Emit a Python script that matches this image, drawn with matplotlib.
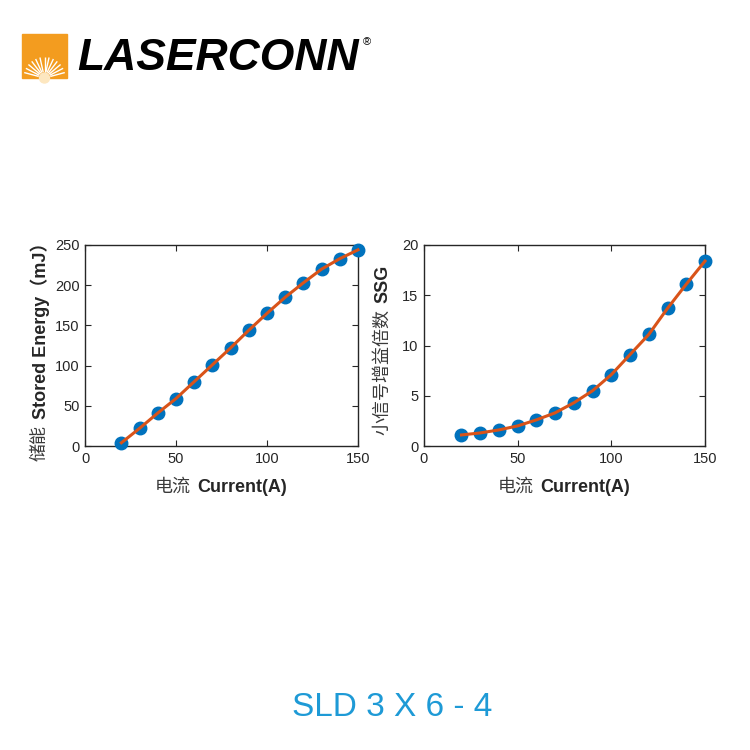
import numpy as np
import matplotlib
matplotlib.use("Agg")
import matplotlib.pyplot as plt
from matplotlib.patches import Rectangle, Circle

plt.rcParams['font.family'] = ['Liberation Sans', 'Noto Sans CJK SC', 'DejaVu Sans']

# data
current = [20, 30, 40, 50, 60, 70, 80, 90, 100, 110, 120, 130, 140, 150]
energy = [4, 22, 41, 59, 80, 101, 122, 144, 165, 185, 203, 220, 233, 244]
ssg = [1.1, 1.3, 1.6, 2.0, 2.6, 3.3, 4.3, 5.5, 7.1, 9.1, 11.1, 13.7, 16.1, 18.4]

x_ticks = [0, 50, 100, 150]
energy_ticks = [0, 50, 100, 150, 200, 250]
ssg_ticks = [0, 5, 10, 15, 20]

W = H = 750
fig = plt.figure(figsize=(7.5, 7.5), dpi=100)
fig.patch.set_facecolor('white')

def px_axes(x0, y0, x1, y1):
    # pixel box (top-left origin) -> figure fraction
    return fig.add_axes([x0 / W, 1 - y1 / H, (x1 - x0) / W, (y1 - y0) / H])

dark = '#262626'
blue = '#0072BD'
orange = '#D95319'

ax1 = px_axes(85, 245, 358, 446)
ax2 = px_axes(424, 245, 705, 446)

for ax, y, yt, ylim in [(ax1, energy, energy_ticks, (0, 250)), (ax2, ssg, ssg_ticks, (0, 20))]:
    ax.plot(current, y, 'o', color=blue, ms=9, zorder=2, clip_on=False)
    ax.plot(current, y, '-', color=orange, lw=2.2, zorder=3, clip_on=False)
    ax.set_xlim(0, 150)
    ax.set_ylim(*ylim)
    ax.set_xticks(x_ticks)
    ax.set_yticks(yt)
    ax.tick_params(direction='in', top=True, right=True, length=4, width=0.8,
                   labelsize=10.5, colors=dark, pad=4)
    for s in ax.spines.values():
        s.set_color(dark)
        s.set_linewidth(1.0)
        s.set_zorder(1)

fig.canvas.draw()
renderer = fig.canvas.get_renderer()

def two_part(x, y, cn, en, rotation, size=13):
    # chinese part in regular weight, english part in bold, centered at (x, y) px
    t1 = fig.text(0, 0, cn, fontsize=size, color='#3a3a3a', rotation=rotation,
                  ha='left', va='bottom')
    t2 = fig.text(0, 0, en, fontsize=size, color=dark, rotation=rotation,
                  fontweight='bold', ha='left', va='bottom')
    b1 = t1.get_window_extent(renderer)
    b2 = t2.get_window_extent(renderer)
    gap = 6
    if rotation == 0:
        total = b1.width + gap + b2.width
        left = x - total / 2
        t1.set_position((left / W, 1 - y / H))
        t2.set_position(((left + b1.width + gap) / W, 1 - y / H))
        t1.set_va('center'); t2.set_va('center')
    else:
        total = b1.height + gap + b2.height
        bottom = y + total / 2  # pixel, top-origin
        t1.set_position((x / W, 1 - bottom / H))
        t2.set_position((x / W, 1 - (bottom - b1.height - gap) / H))
        t1.set_ha('center'); t2.set_ha('center')

two_part(221, 487, '电流', 'Current(A)', 0)
two_part(564, 487, '电流', 'Current(A)', 0)
two_part(40, 347, '储能', 'Stored Energy（mJ）', 90)
two_part(383, 350, '小信号增益倍数', 'SSG', 90)

# logo
logo = fig.add_axes([0, 0, 1, 1], zorder=-1)
logo.set_xlim(0, W)
logo.set_ylim(H, 0)
logo.axis('off')
logo.add_patch(Rectangle((22, 34), 45, 44, color='#F39C1F'))
cx, cy = 44.5, 78
for a in np.linspace(15, 165, 13):
    r = np.radians(a)
    logo.plot([cx + 6 * np.cos(r), cx + 21 * np.cos(r)],
              [cy - 6 * np.sin(r), cy - 21 * np.sin(r)],
              color='white', lw=1.0, solid_capstyle='butt')
logo.add_patch(Circle((cx, cy), 5, color='#FDE7C0'))
logo.text(77, 59, 'LASERCONN', fontsize=32, fontweight='bold', style='italic',
          color='black', ha='left', va='center', family='Liberation Sans')
logo.text(367, 42, '®', fontsize=8, color='black', ha='center', va='center')

fig.text(392 / W, 1 - 708 / H, 'SLD 3 X 6 - 4', fontsize=24, color='#1E9AD6',
         ha='center', va='center')

fig.savefig('out.png', dpi=100)
